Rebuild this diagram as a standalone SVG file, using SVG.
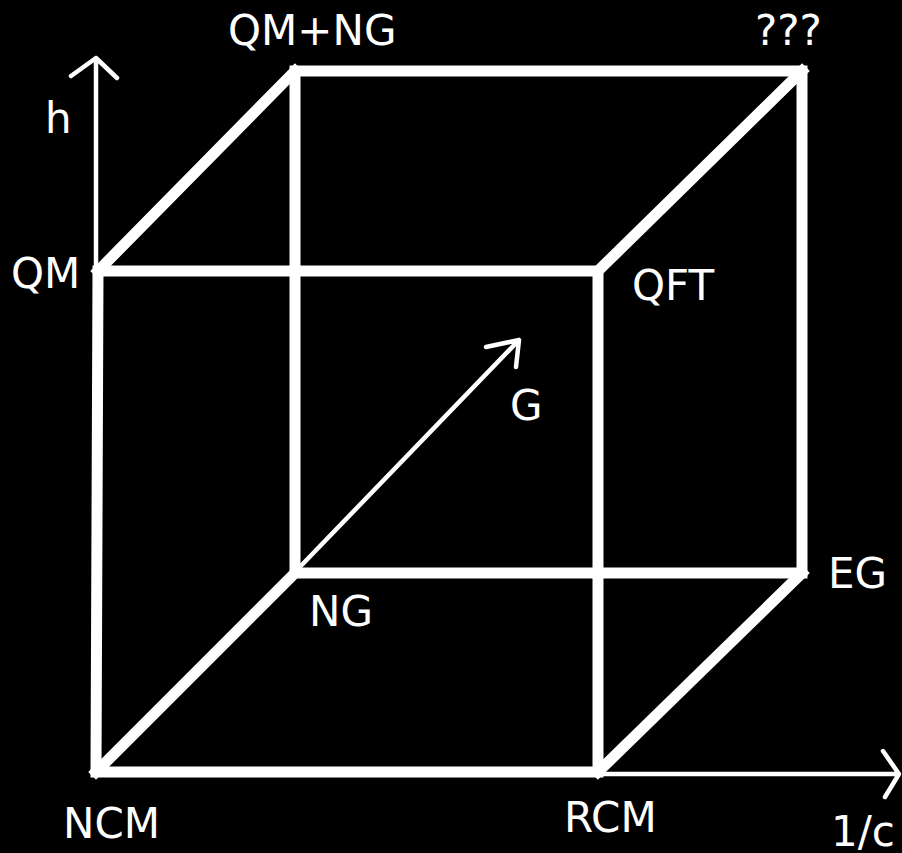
<svg xmlns="http://www.w3.org/2000/svg" width="902" height="853" viewBox="0 0 902 853">
<style>
.bg{fill:#000}
.edge{stroke:#fff;stroke-width:11;fill:none;stroke-linecap:square;stroke-linejoin:miter}
.axis{stroke:#fff;stroke-width:4.5;fill:none;stroke-linecap:round;stroke-linejoin:round}
.lbl{fill:#fff;font-family:"DejaVu Sans",Verdana,sans-serif;font-size:42px}
</style>
<rect class="bg" width="902" height="853"/>
<g id="connectors">
<path class="axis" d="M96,270 L96,58 M71,76 L96,58 L117,78"/>
<path class="axis" d="M598,774 L899,774 M883,751 L899,774 L885,797"/>
<path class="axis" d="M295,572 L519,340 M486,347 L519,340 L516,367"/>
<g class="edge">
<path d="M295,71 L802,71 L802,573 L295,573 Z"/>
<path d="M98,271 L598,271 L598,772 L96,772 Z"/>
<path d="M98,271 L295,71 M598,271 L802,71 M598,772 L802,573 M96,772 L295,573"/>
</g>
</g>
<g id="n-qmng"><text class="lbl" x="228" y="45">QM+NG</text></g>
<g id="n-unknown"><text class="lbl" x="755" y="45">???</text></g>
<g id="n-h"><text class="lbl" x="45" y="133">h</text></g>
<g id="n-qm"><text class="lbl" x="11" y="288">QM</text></g>
<g id="n-qft"><text class="lbl" x="632" y="300">QFT</text></g>
<g id="n-g"><text class="lbl" x="510" y="420">G</text></g>
<g id="n-ng"><text class="lbl" x="309" y="626">NG</text></g>
<g id="n-eg"><text class="lbl" x="828" y="588">EG</text></g>
<g id="n-ncm"><text class="lbl" x="63" y="838">NCM</text></g>
<g id="n-rcm"><text class="lbl" x="564" y="832">RCM</text></g>
<g id="n-1c"><text class="lbl" x="831" y="846">1/c</text></g>
</svg>
